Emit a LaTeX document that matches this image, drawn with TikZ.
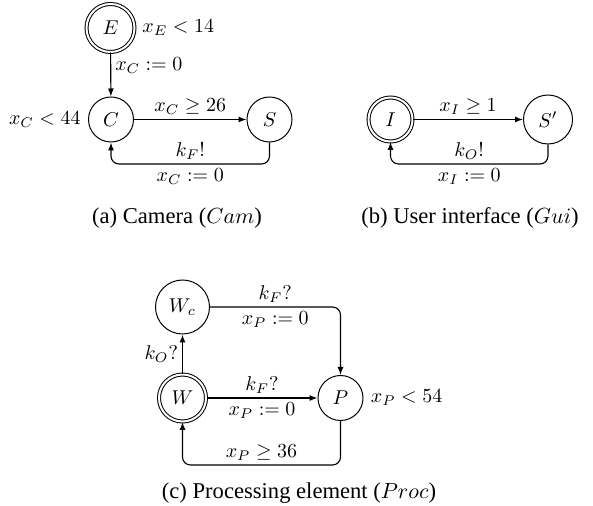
\documentclass[tikz,border=0pt]{standalone}
\usepackage[no-math]{fontspec}
\setmainfont{Liberation Serif}
\usetikzlibrary{arrows.meta}
\begin{document}
\begin{tikzpicture}[x=0.5pt,y=-0.5pt,
  every node/.style={font=\fontsize{9.8}{12}\selectfont},
  stt/.style={circle, draw, line width=0.5pt, inner sep=0pt},
  init/.style={stt, double, double distance=1pt},
  trans/.style={-{Latex[length=4pt,width=3pt]}, line width=0.55pt, rounded corners=4pt},
  lbl/.style={inner sep=2pt},
  slbl/.style={inner sep=2pt, label distance=1.5pt},
  captxt/.style={font=\fontsize{11.3}{13}\selectfont}]
\useasboundingbox (0,0) rectangle (593,506);

% (a) Camera
\node[init, minimum size=24pt, label={[slbl]right:$x_E<14$}] (E) at (110.5,28) {$E$};
\node[stt, minimum size=22.5pt, label={[slbl]left:$x_C<44$}] (C) at (111,119.5) {$C$};
\node[stt, minimum size=22.5pt] (S) at (269.5,119.5) {$S$};
\draw[trans] (E) -- node[lbl, right, pos=0.3] {$x_C:=0$} (C);
\draw[trans] (C) -- node[lbl, above] {$x_C\geq 26$} (S);
\coordinate (bota) at (0,164);
\draw[trans] (S.south) -- (S.south |- bota) -- node[lbl, above]{$k_F!$} node[lbl, below]{$x_C:=0$} (C.south |- bota) -- (C.south);

% (b) Gui
\node[init, minimum size=22pt] (I) at (390.5,119.5) {$I$};
\node[stt, minimum size=24.5pt] (S2) at (548,119.5) {$S'$};
\draw[trans] (I) -- node[lbl,above]{$x_I\geq 1$} (S2);
\draw[trans] (S2.south) -- (S2.south |- bota) -- node[lbl,above]{$k_O!$} node[lbl,below]{$x_I:=0$} (I.south |- bota) -- (I.south);

% (c) Proc
\node[stt, minimum size=27pt] (Wc) at (182.5,307) {$W_c$};
\node[init, minimum size=23.5pt] (W) at (182.5,398) {$W$};
\node[stt, minimum size=22.5pt, label={[slbl]right:$x_P<54$}] (P) at (340.5,398) {$P$};
\draw[trans] (W) -- node[lbl,left]{$k_O?$} (Wc);
\draw[trans] (Wc.east) -- node[lbl,above]{$k_F?$} node[lbl,below]{$x_P:=0$} (Wc.east -| P.north) -- (P.north);
\draw[trans] (W) -- node[lbl,above]{$k_F?$} node[lbl,below]{$x_P:=0$} (P);
\coordinate (botc) at (0,465);
\draw[trans] (P.south) -- (P.south |- botc) -- node[lbl,above]{$x_P\geq 36$} (W.south |- botc) -- (W.south);

% captions
\node[captxt] (capa) at (177,218) {(a) Camera ($Cam$)};
\node[captxt] (capb) at (470,218) {(b) User interface ($Gui$)};
\node[captxt] (capc) at (299,493) {(c) Processing element ($Proc$)};
\end{tikzpicture}
\end{document}
